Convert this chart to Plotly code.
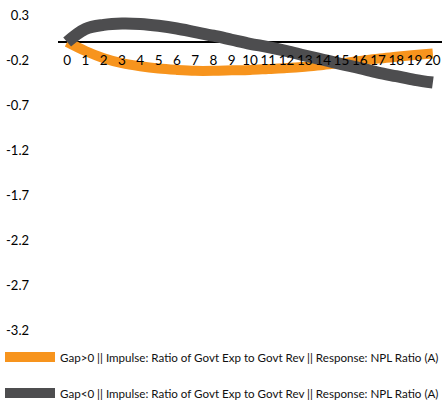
import plotly.graph_objects as go

periods = list(range(21))
gap_pos = [0.0, -0.10, -0.18, -0.235, -0.27, -0.295, -0.31, -0.32, -0.32, -0.315, -0.31,
           -0.30, -0.29, -0.275, -0.255, -0.235, -0.21, -0.185, -0.165, -0.145, -0.127]
gap_neg = [0.0, 0.145, 0.19, 0.205, 0.2, 0.18, 0.15, 0.11, 0.07, 0.025, -0.02,
           -0.056, -0.10, -0.15, -0.197, -0.245, -0.29, -0.34, -0.38, -0.42, -0.45]
y_ticks = [0.3, -0.2, -0.7, -1.2, -1.7, -2.2, -2.7, -3.2]
name_pos = "Gap>0 || Impulse: Ratio of Govt Exp to Govt Rev || Response: NPL Ratio (A)"
name_neg = "Gap<0 || Impulse: Ratio of Govt Exp to Govt Rev || Response: NPL Ratio (A)"

ymin, ymax = -3.3, 0.4
fig = go.Figure()
fig.add_trace(go.Scatter(x=periods, y=gap_pos, mode="lines", name=name_pos,
                         line=dict(color="#F7941D", width=10, shape="spline"), legend="legend"))
fig.add_trace(go.Scatter(x=periods, y=gap_neg, mode="lines", name=name_neg,
                         line=dict(color="#4D4D4F", width=12, shape="spline"), legend="legend2"))

font_leg = dict(family="Lato, Liberation Sans", size=11.6, color="#111")
fig.update_layout(
    width=447, height=403, showlegend=True,
    margin=dict(l=58, r=5, t=6, b=64, autoexpand=False),
    paper_bgcolor="white", plot_bgcolor="white",
    font=dict(family="Lato, DejaVu Sans", size=13, color="black"),
    xaxis=dict(range=[-0.5, 20.5], tickmode="array", tickvals=periods,
               ticktext=[str(p) for p in periods], anchor="free",
               position=(0 - ymin) / (ymax - ymin), showline=False,
               showgrid=False, zeroline=False, ticks="", automargin=False,
               tickfont=dict(size=13.5), ticklabelstandoff=8),
    yaxis=dict(range=[ymin, ymax], tickmode="array", tickvals=y_ticks,
               ticktext=[f"{v:.1f}" for v in y_ticks], showgrid=False, zeroline=True,
               zerolinecolor="black", zerolinewidth=1.5, automargin=False,
               showline=False, ticks="", ticklabelstandoff=28, tickfont=dict(size=13)),
    legend=dict(x=0, y=1 - 357 / 403, xref="container", yref="container",
                xanchor="left", yanchor="middle", font=font_leg,
                bgcolor="rgba(0,0,0,0)", itemwidth=50),
    legend2=dict(x=0, y=1 - 393 / 403, xref="container", yref="container",
                 xanchor="left", yanchor="middle", font=font_leg,
                 bgcolor="rgba(0,0,0,0)", itemwidth=50),
)
fig.write_html("out.html", config={"displayModeBar": False},
               post_script="document.body.style.margin='0';document.body.style.overflow='hidden';")
